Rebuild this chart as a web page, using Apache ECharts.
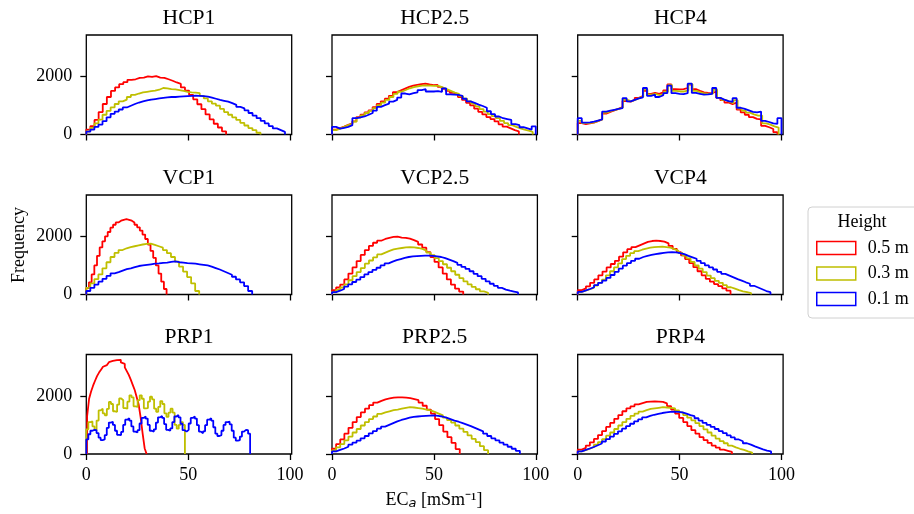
<!DOCTYPE html>
<html><head><meta charset="utf-8">
<script src="https://cdn.jsdelivr.net/npm/echarts@6/dist/echarts.min.js"></script>
<style>html,body{margin:0;padding:0;background:#fff}#c{width:914px;height:514px}</style>
</head><body><div id="c"></div>
<script>
const PANELS = ['HCP1','HCP2.5','HCP4','VCP1','VCP2.5','VCP4','PRP1','PRP2.5','PRP4'];
const HEIGHTS = ['0.5 m','0.3 m','0.1 m'];
const COLORS = ['#ff0000','#bfbf00','#0000ff'];
const X_TICKS = [0, 50, 100];
const Y_TICKS = [0, 2000];
const X_MAX = 100.8, Y_MAX = 3423;

// [min, max] of the bins for heights 0.5 m, 0.3 m, 0.1 m
const HCP1_RANGE = [[0,68.6],[0,85.5],[0,97.5]];
const HCP25_RANGE = [[0,91.7],[0,98.5],[0,100]];
const HCP4_RANGE = [[0,98],[0,98.6],[0,100]];
const VCP1_RANGE = [[0,39.4],[0,55.4],[0,81.4]];
const VCP25_RANGE = [[0,64.4],[0,76.6],[0,91.3]];
const VCP4_RANGE = [[0,75],[0,85.1],[0,94.6]];
const PRP1_RANGE = [[0.4,29.6],[0,48.4],[0,80.4]];
const PRP25_RANGE = [[0,62.7],[0,76.6],[0,92.2]];
const PRP4_RANGE = [[0,75.7],[0,85.6],[0,94.9]];

// bin counts
const HCP1_H05 = [170,290,500,770,1050,1290,1500,1620,1730,1800,1880,1900,1950,1960,2000,1980,2010,1960,1950,1900,1850,1790,1740,1620,1510,1360,1210,1040,870,690,520,370,240,110];
const HCP1_H03 = [110,230,380,510,680,810,930,1050,1140,1200,1290,1360,1410,1450,1470,1490,1510,1540,1600,1590,1560,1550,1530,1500,1470,1450,1440,1420,1330,1240,1140,1060,990,880,770,680,590,500,400,310,220,150,60];
const HCP1_H01 = [100,170,260,340,460,590,710,790,860,930,990,1050,1100,1140,1170,1200,1220,1240,1260,1280,1290,1290,1300,1310,1320,1330,1340,1330,1320,1300,1270,1230,1190,1160,1130,1080,1020,950,900,830,740,650,560,470,380,290,210,150,90];

const HCP25_H05 = [170,220,270,330,380,450,600,680,760,830,940,1050,1140,1230,1330,1460,1520,1580,1640,1680,1710,1730,1750,1720,1700,1710,1640,1570,1500,1430,1390,1290,1190,1090,1000,890,780,690,600,530,450,350,270,210,150,110];
const HCP25_H03 = [150,200,260,320,370,440,580,660,740,810,910,1010,1100,1190,1290,1400,1470,1530,1590,1630,1660,1680,1690,1680,1670,1670,1620,1560,1500,1440,1400,1320,1230,1140,1060,970,870,790,700,630,560,470,390,320,260,210,170,130,90];
const HCP25_H01 = [260,200,230,260,320,560,590,620,680,740,820,950,1010,1060,1130,1190,1270,1410,1380,1420,1450,1530,1560,1480,1480,1490,1470,1590,1380,1370,1360,1330,1230,1140,1090,1030,980,920,800,700,620,560,530,500,360,320,250,210,170,280];

const HCP4_H05 = [390,360,380,410,460,520,720,780,830,880,940,1150,1130,1190,1260,1320,1500,1400,1430,1400,1450,1520,1720,1560,1550,1560,1600,1720,1560,1500,1450,1430,1420,1480,1260,1180,1100,1040,1100,860,760,680,600,540,520,300,250,190,80];
const HCP4_H03 = [470,390,400,420,470,520,750,800,840,880,920,1200,1140,1190,1250,1300,1550,1370,1400,1350,1400,1470,1700,1500,1480,1480,1520,1730,1500,1450,1410,1400,1410,1540,1260,1190,1130,1080,1180,890,820,750,690,650,650,380,340,280,240];
const HCP4_H01 = [560,410,420,440,480,520,790,820,850,880,910,1250,1140,1190,1240,1280,1600,1330,1370,1290,1350,1420,1680,1420,1400,1390,1420,1750,1430,1400,1370,1380,1400,1600,1260,1200,1150,1120,1250,920,880,830,780,760,790,470,430,380,370,560];

const VCP1_H05 = [220,420,690,1000,1330,1620,1830,2000,2150,2300,2400,2480,2540,2570,2590,2570,2540,2480,2400,2310,2200,2060,1910,1720,1500,1260,1000,720,440,190];
const VCP1_H03 = [230,380,530,690,900,1110,1290,1430,1530,1590,1630,1660,1690,1720,1740,1750,1710,1660,1610,1530,1420,1290,1130,960,790,600,380,120];
const VCP1_H01 = [120,230,340,440,540,640,730,770,820,870,900,940,980,1000,1020,1040,1060,1070,1090,1100,1120,1140,1110,1100,1080,1070,1060,1040,1020,1000,960,910,860,800,740,680,610,520,420,290,120];

const VCP25_H05 = [150,240,340,520,720,930,1150,1360,1530,1670,1780,1850,1910,1950,1980,1990,1960,1950,1920,1870,1810,1720,1610,1460,1290,1120,930,720,520,340,200,100];
const VCP25_H03 = [90,160,240,350,490,630,770,910,1060,1170,1280,1380,1440,1500,1550,1580,1600,1620,1630,1620,1600,1570,1510,1440,1350,1250,1150,1040,920,800,680,560,450,350,260,180,110,60];
const VCP25_H01 = [80,130,190,270,350,430,510,600,690,770,850,920,1000,1070,1130,1180,1220,1260,1290,1310,1320,1330,1340,1340,1330,1310,1290,1250,1200,1150,1090,1020,950,880,800,710,630,540,450,370,300,230,170,130,100,70];

const VCP4_H05 = [150,210,280,400,520,660,790,930,1050,1160,1300,1450,1560,1630,1690,1750,1810,1840,1850,1840,1820,1760,1670,1570,1460,1350,1220,1080,940,800,660,540,440,360,290,210,130];
const VCP4_H03 = [90,130,180,230,310,400,510,660,800,930,1070,1220,1330,1420,1490,1540,1580,1610,1630,1640,1650,1630,1610,1560,1500,1430,1340,1240,1120,1000,890,770,650,560,470,400,320,250,200,150,110,80,50];
const VCP4_H01 = [90,140,190,250,320,400,480,570,670,780,890,990,1080,1160,1230,1290,1330,1360,1390,1410,1430,1450,1460,1450,1420,1390,1330,1280,1230,1160,1080,1000,930,860,780,710,650,590,530,480,420,370,300,240,180,120,80];

const PRP1_H05 = [1300,1900,2150,2350,2520,2680,2800,2900,3000,3060,3120,3160,3200,3180,3230,3210,3240,3150,3100,2980,2850,2720,2560,2380,2200,1950,1700,1250,700,200];
const PRP1_H03 = [850,1100,1120,950,820,1150,1500,1560,1400,1330,1550,1790,1720,1470,1450,1700,1910,1850,1580,1560,1800,2020,1950,1640,1620,1850,2020,1900,1570,1580,1800,1970,1880,1560,1450,1620,1820,1720,1400,1280,1420,1560,1420,1000,870,1000,1100,1000];
const PRP1_H01 = [500,680,800,830,820,720,560,480,500,650,900,1080,1110,1000,800,660,650,760,1000,1180,1230,1150,950,770,740,820,1050,1240,1290,1220,1000,800,770,850,1080,1260,1310,1240,1030,830,800,880,1100,1290,1340,1260,1040,820,770,830,1050,1240,1290,1220,990,770,710,780,990,1180,1230,1150,920,700,620,650,800,1000,1100,1110,1020,800,560,460,480,600,770,830,820,700];

const PRP25_H05 = [180,340,500,700,900,1100,1270,1430,1560,1680,1770,1830,1880,1910,1940,1950,1950,1940,1920,1890,1850,1770,1660,1530,1390,1200,990,770,580,380,170];
const PRP25_H03 = [120,230,340,470,600,740,860,980,1100,1200,1290,1380,1430,1470,1510,1530,1560,1590,1610,1600,1580,1560,1530,1500,1450,1390,1330,1250,1170,1080,980,870,760,640,520,410,270,130];
const PRP25_H01 = [90,140,190,250,320,390,460,540,620,710,790,870,940,1000,1060,1120,1170,1210,1250,1280,1290,1300,1310,1320,1330,1310,1290,1250,1200,1150,1110,1060,1010,960,900,840,780,700,620,540,470,390,320,250,180,110];

const PRP4_H05 = [150,210,290,400,520,650,790,930,1070,1210,1340,1470,1570,1640,1710,1750,1790,1800,1810,1800,1790,1740,1650,1530,1390,1240,1100,960,820,700,580,480,380,290,220,150,110,70];
const PRP4_H03 = [90,130,180,240,320,410,510,630,740,860,980,1100,1210,1310,1390,1460,1510,1550,1570,1590,1610,1600,1590,1570,1500,1430,1340,1250,1160,1060,960,850,740,630,530,440,370,290,230,180,140,90,50];
const PRP4_H01 = [90,140,190,240,300,360,430,510,600,690,780,870,960,1040,1120,1190,1260,1310,1350,1380,1410,1430,1450,1460,1450,1430,1390,1340,1300,1230,1150,1070,1000,930,860,790,720,640,570,500,440,370,320,260,210,160,120,90];

const RANGES = [HCP1_RANGE,HCP25_RANGE,HCP4_RANGE,VCP1_RANGE,VCP25_RANGE,VCP4_RANGE,PRP1_RANGE,PRP25_RANGE,PRP4_RANGE];
const COUNTS = [
  [HCP1_H05,HCP1_H03,HCP1_H01],[HCP25_H05,HCP25_H03,HCP25_H01],[HCP4_H05,HCP4_H03,HCP4_H01],
  [VCP1_H05,VCP1_H03,VCP1_H01],[VCP25_H05,VCP25_H03,VCP25_H01],[VCP4_H05,VCP4_H03,VCP4_H01],
  [PRP1_H05,PRP1_H03,PRP1_H01],[PRP25_H05,PRP25_H03,PRP25_H01],[PRP4_H05,PRP4_H03,PRP4_H01]
];

function stepPoints(r, c) {
  const w = (r[1] - r[0]) / c.length;
  const p = [[r[0], 0]];
  c.forEach((v, i) => p.push([r[0] + i * w, v]));
  p.push([r[1], 0]);
  return p;
}

const LEFTS = [86.3, 332, 577.7], TOPS = [35, 195, 354.5], GW = 205.4, GH = 99.5;
const SERIF = 'Liberation Serif';
const grids = [], xAxes = [], yAxes = [], series = [], titles = [];
PANELS.forEach((name, i) => {
  const row = Math.floor(i / 3), col = i % 3;
  grids.push({left: LEFTS[col], top: TOPS[row], width: GW, height: GH, show: true,
    borderColor: '#000', borderWidth: 1.3, backgroundColor: 'transparent'});
  xAxes.push({gridIndex: i, type: 'value', min: 0, max: X_MAX, interval: 50,
    axisLine: {show: false}, splitLine: {show: false},
    axisTick: {show: true, length: 6, customValues: X_TICKS, lineStyle: {color: '#000', width: 1.3}},
    axisLabel: {show: row === 2, customValues: X_TICKS, margin: 12, fontSize: 18, fontFamily: SERIF, color: '#000',
      formatter: v => String(v)}});
  yAxes.push({gridIndex: i, type: 'value', min: 0, max: Y_MAX, interval: 2000,
    axisLine: {show: false}, splitLine: {show: false},
    axisTick: {show: true, length: 6, customValues: Y_TICKS, lineStyle: {color: '#000', width: 1.3}},
    axisLabel: {show: col === 0, customValues: Y_TICKS, margin: 14, fontSize: 18, fontFamily: SERIF, color: '#000',
      formatter: v => String(v)}});
  titles.push({text: name, left: LEFTS[col] + GW / 2, top: TOPS[row] - 28, textAlign: 'center', padding: 0,
    textStyle: {fontSize: 21.6, fontWeight: 'normal', fontFamily: SERIF, color: '#000'}});
  HEIGHTS.forEach((h, k) => {
    series.push({type: 'line', name: h, xAxisIndex: i, yAxisIndex: i, step: 'end',
      showSymbol: false, symbol: 'none', silent: true, animation: false,
      lineStyle: {color: COLORS[k], width: 1.8}, itemStyle: {color: COLORS[k]},
      data: stepPoints(RANGES[i][k], COUNTS[i][k])});
  });
});

const chart = echarts.init(document.getElementById('c'), null, {renderer: 'canvas'});
chart.setOption({
  animation: false,
  title: titles,
  grid: grids, xAxis: xAxes, yAxis: yAxes, series: series,
  legend: {
    orient: 'vertical', left: 816, top: 239, padding: 0, itemWidth: 39, itemHeight: 13, itemGap: 7.5,
    selectedMode: false, z: 10,
    textStyle: {fontSize: 18, fontFamily: SERIF, color: '#000', padding: [0, 0, 0, 7]},
    data: HEIGHTS.map((h, k) => ({name: h, icon: 'rect',
      itemStyle: {color: 'rgba(0,0,0,0)', borderColor: COLORS[k], borderWidth: 1.5}}))
  },
  graphic: [
    {type: 'rect', z: 1, shape: {x: 808, y: 207, width: 130, height: 111, r: 4},
      style: {fill: '#fff', stroke: '#d0d0d0', lineWidth: 1}},
    {type: 'text', z: 2, x: 862, y: 222, style: {text: 'Height', fontSize: 18, fontFamily: SERIF,
      fill: '#000', align: 'center', verticalAlign: 'middle'}},
    {type: 'text', z: 2, x: 19, y: 245, rotation: Math.PI / 2, style: {text: 'Frequency', fontSize: 18,
      fontFamily: SERIF, fill: '#000', align: 'center', verticalAlign: 'middle'}},
    {type: 'text', z: 2, x: 434, y: 500, style: {text: 'EC{a|a} [mSm\u207B\u00B9]', fontSize: 18,
      fontFamily: SERIF, fill: '#000', align: 'center', verticalAlign: 'middle',
      rich: {a: {fontSize: 13, fontStyle: 'italic', fontFamily: 'DejaVu Sans', padding: [8, 0, 0, 0]}}}}
  ]
});
</script></body></html>
